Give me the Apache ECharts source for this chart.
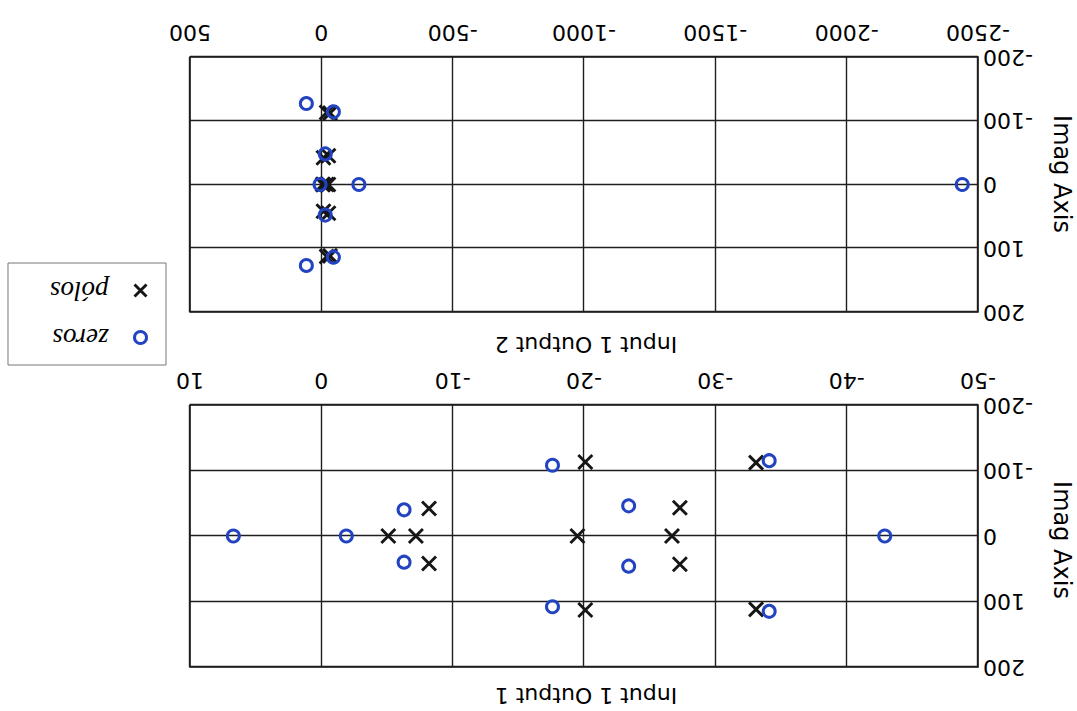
<!DOCTYPE html>
<html>
<head>
<meta charset="utf-8">
<script src="https://cdn.jsdelivr.net/npm/echarts@6/dist/echarts.min.js"></script>
<style>
html,body{margin:0;padding:0;background:#fff;}
#chart{width:1077px;height:711px;transform:rotate(180deg);}
</style>
</head>
<body>
<div id="chart"></div>
<script>
// ---- data (values as on the axes) ----
const xTicks1 = [-50, -40, -30, -20, -10, 0, 10];
const xTicks2 = [-2500, -2000, -1500, -1000, -500, 0, 500];
const yTicks = [-200, -100, 0, 100, 200];

const titles = ['Input 1 Output 1', 'Input 1 Output 2'];
const yName = 'Imag Axis';
const legendNames = ['zeros', 'pólos'];

// Output 1
const zerosRe1 = [6.7, -1.9, -6.3, -6.3, -17.6, -17.6, -23.4, -23.4, -34.1, -34.1, -42.9];
const zerosIm1 = [0, 0, 40, -40, 108, -108, 46, -46, 115, -115, 0];
const polesRe1 = [-5.1, -7.2, -19.5, -26.7, -8.2, -8.2, -20.1, -20.1, -27.3, -27.3, -33.1, -33.1];
const polesIm1 = [0, 0, 0, 0, 42, -42, 113, -113, 43, -43, 112, -112];

// Output 2
const zerosRe2 = [57, 57, -46, -46, -15, -15, 5, -143, -2440];
const zerosIm2 = [127, -127, 114, -114, 48, -48, 0, 0, 0];
const polesRe2 = [-5, -7, -20, -27, -8, -8, -20, -20, -27, -27, -33, -33];
const polesIm2 = [0, 0, 0, 0, 42, -42, 113, -113, 45, -45, 112, -112];

// ---- chart ----
const pair = (re, im) => re.map((v, i) => [v, im[i]]);
const FONT = 'DejaVu Sans';
const ZERO_COLOR = '#2244c2';
const POLE_COLOR = '#161616';
const XPATH = 'path://M0,0L10,10M10,0L0,10';
const plain = v => String(v);

function xAxisFor(ticks, gi) {
  return {
    gridIndex: gi, type: 'value',
    min: ticks[0], max: ticks[ticks.length - 1], interval: ticks[1] - ticks[0],
    axisLine: {show: false}, axisTick: {show: false},
    splitLine: {show: true, lineStyle: {color: '#1e1e1e', width: 1.4}},
    axisLabel: {fontFamily: FONT, fontSize: 22, color: '#000', margin: 14, formatter: plain}
  };
}
function yAxisFor(gi) {
  return {
    gridIndex: gi, type: 'value',
    min: yTicks[0], max: yTicks[yTicks.length - 1], interval: yTicks[1] - yTicks[0],
    axisLine: {show: false}, axisTick: {show: false},
    splitLine: {show: true, lineStyle: {color: '#1e1e1e', width: 1.4}},
    axisLabel: {fontFamily: FONT, fontSize: 22, color: '#000', margin: 5, formatter: plain}
  };
}
function zeroSeries(data, gi) {
  return {
    name: legendNames[0], type: 'scatter', xAxisIndex: gi, yAxisIndex: gi, z: 3,
    symbol: 'circle', symbolSize: 12, data: data,
    itemStyle: {color: 'rgba(0,0,0,0)', borderColor: ZERO_COLOR, borderWidth: 3, opacity: 1}
  };
}
function poleSeries(data, gi) {
  return {
    name: legendNames[1], type: 'scatter', xAxisIndex: gi, yAxisIndex: gi, z: 2,
    symbol: XPATH, symbolSize: 14, data: data,
    itemStyle: {color: 'none', borderColor: POLE_COLOR, borderWidth: 2.9, opacity: 1}
  };
}

const chart = echarts.init(document.getElementById('chart'), null, {renderer: 'svg'});
chart.setOption({
  animation: false,
  backgroundColor: '#fff',
  title: [
    {text: titles[0], left: 491, top: 5, textAlign: 'center', padding: 0,
     textStyle: {fontFamily: FONT, fontSize: 22, fontWeight: 'normal', color: '#000'}},
    {text: titles[1], left: 491, top: 356, textAlign: 'center', padding: 0,
     textStyle: {fontFamily: FONT, fontSize: 22, fontWeight: 'normal', color: '#000'}}
  ],
  grid: [
    {left: 99, top: 44, width: 788, height: 262, show: true, borderColor: '#161616', borderWidth: 1.6, backgroundColor: '#fff'},
    {left: 99, top: 399, width: 788, height: 255, show: true, borderColor: '#161616', borderWidth: 1.6, backgroundColor: '#fff'}
  ],
  xAxis: [xAxisFor(xTicks1, 0), xAxisFor(xTicks2, 1)],
  yAxis: [yAxisFor(0), yAxisFor(1)],
  legend: {
    orient: 'vertical', left: 911, top: 346,
    padding: [14, 42, 14, 17], itemGap: 20, itemWidth: 14, itemHeight: 12,
    borderColor: '#777', borderWidth: 1, backgroundColor: '#fff',
    formatter: name => '{t|' + name + '}',
    textStyle: {
      rich: {t: {fontFamily: 'Liberation Serif', fontStyle: 'italic', fontSize: 27, color: '#000',
                 lineHeight: 26, padding: [0, 0, 0, 20]}}
    },
    data: [
      {name: legendNames[0], icon: 'circle',
       itemStyle: {color: 'rgba(0,0,0,0)', borderColor: ZERO_COLOR, borderWidth: 3}},
      {name: legendNames[1], icon: XPATH,
       itemStyle: {color: 'none', borderColor: POLE_COLOR, borderWidth: 2.9}}
    ]
  },
  graphic: [
    {type: 'text', x: 15, y: 171, rotation: Math.PI / 2,
     style: {text: yName, font: '24px "DejaVu Sans"', fill: '#000',
             align: 'center', verticalAlign: 'middle', textAlign: 'center', textVerticalAlign: 'middle'}},
    {type: 'text', x: 15, y: 537, rotation: Math.PI / 2,
     style: {text: yName, font: '24px "DejaVu Sans"', fill: '#000',
             align: 'center', verticalAlign: 'middle', textAlign: 'center', textVerticalAlign: 'middle'}}
  ],
  series: [
    poleSeries(pair(polesRe1, polesIm1), 0),
    zeroSeries(pair(zerosRe1, zerosIm1), 0),
    poleSeries(pair(polesRe2, polesIm2), 1),
    zeroSeries(pair(zerosRe2, zerosIm2), 1)
  ]
});
</script>
</body>
</html>
